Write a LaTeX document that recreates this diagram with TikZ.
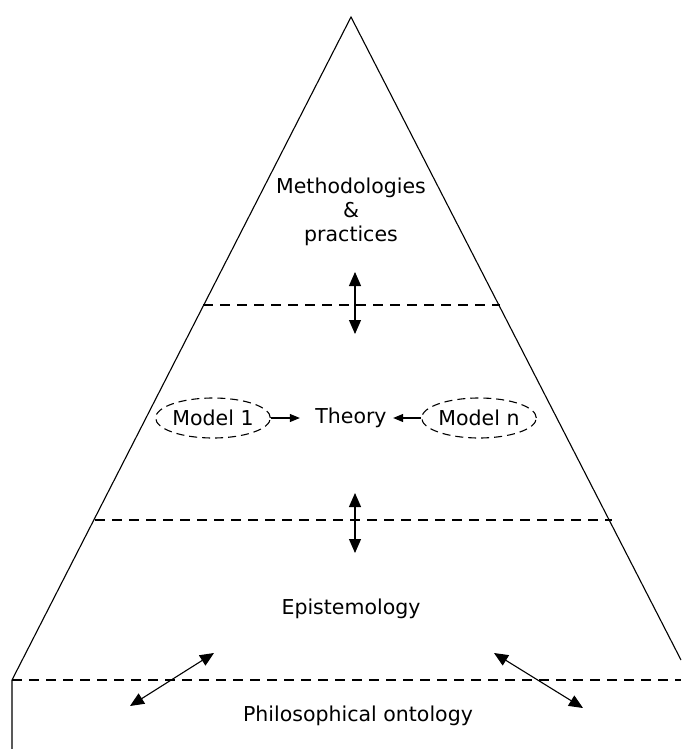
\documentclass[tikz,border=0pt]{standalone}
\usepackage{fontspec}
\setmainfont{DejaVu Sans}
\usetikzlibrary{arrows.meta,shapes.geometric}

\tikzset{
  layer/.style={dashed,dash pattern=on 10pt off 7pt},
  modelbox/.style={ellipse,draw,dashed,dash pattern=on 8pt off 5pt,
    minimum width=113pt,minimum height=40pt,inner sep=0pt},
  label/.style={align=center,inner sep=0pt}
}

\begin{document}
\begin{tikzpicture}[x=1pt,y=-1pt,line width=1.1pt,
    >={Triangle[length=14pt,width=12pt]},
    font=\fontsize{20.5}{24}\selectfont]
  \useasboundingbox (0,0) rectangle (681,749);

  % Pyramid corners
  \coordinate (P) at (351,17);
  \coordinate (L) at (12,680);
  \coordinate (R) at (681,660);
  \coordinate (LB) at (12,749);

  % Layer borders
  \coordinate (A1) at (203,305);
  \coordinate (A2) at (500,305);
  \coordinate (B1) at (95,520);
  \coordinate (B2) at (612,520);
  \coordinate (C2) at (681,680);

  % Outline
  \draw (LB) -- (L) -- (P) -- (R);

  % Dashed layer borders
  \draw[layer] (A1) -- (A2);
  \draw[layer] (B1) -- (B2);
  \draw[layer] (L) -- (C2);

  % Texts
  \node[label] (meth) at (351,212) {Methodologies\\\&\\practices};
  \node[label] (th) at (351,418) {Theory};
  \node[modelbox] (m1) at (213,418) {Model 1};
  \node[modelbox] (mn) at (479,418) {Model n};
  \node[label] (epi) at (351,609) {Epistemology};
  \node[label] (onto) at (358,716) {Philosophical ontology};

  % Arrows between layers
  \coordinate (U1) at (355,272);
  \coordinate (U2) at (355,334);
  \coordinate (V1) at (355,493);
  \coordinate (V2) at (355,553);
  \coordinate (W1) at (130,706);
  \coordinate (W2) at (214,653);
  \coordinate (Z1) at (494,653);
  \coordinate (Z2) at (583,708);
  \draw[<->] (U1) -- (U2);
  \draw[<->] (V1) -- (V2);
  \draw[<->] (W1) -- (W2);
  \draw[<->] (Z1) -- (Z2);

  % Models feeding the theory
  \draw[->,>={Triangle[length=10pt,width=8pt]},shorten >=15pt] (m1.east) -- (th.west);
  \draw[->,>={Triangle[length=10pt,width=8pt]},shorten >=6pt] (mn.west) -- (th.east);
\end{tikzpicture}
\end{document}
